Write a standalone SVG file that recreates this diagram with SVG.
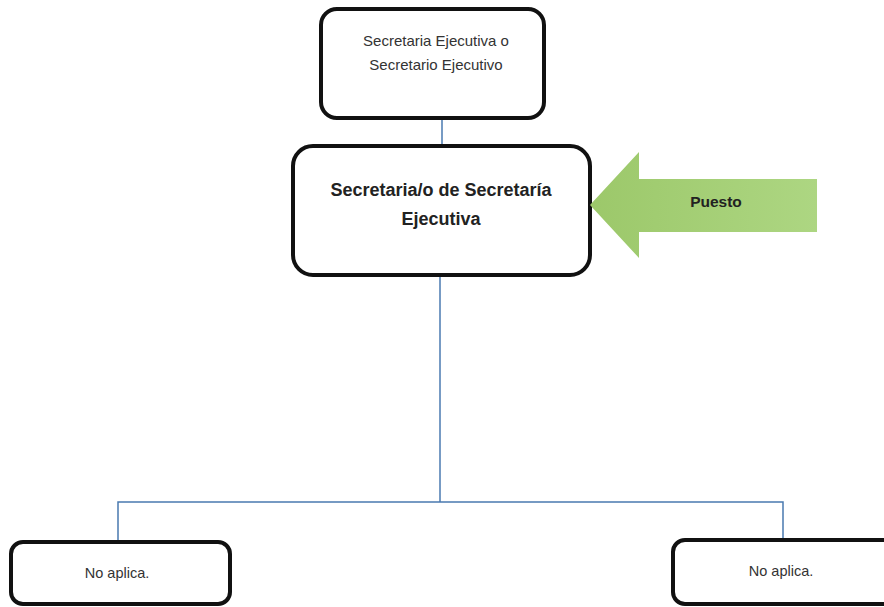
<svg xmlns="http://www.w3.org/2000/svg" width="884" height="607" viewBox="0 0 884 607">
  <defs>
    <linearGradient id="green" x1="0" y1="0" x2="1" y2="0">
      <stop offset="0" stop-color="#9cc86a"/>
      <stop offset="1" stop-color="#add682"/>
    </linearGradient>
  </defs>
  <style>
    .box { fill: #ffffff; stroke: #111111; stroke-width: 4; }
    .conn { fill: none; stroke: #4a7ab0; stroke-width: 1.5; }
    .t { font-family: "Liberation Sans", Arial, sans-serif; fill: #333333; text-anchor: middle; }
    .b { font-weight: bold; fill: #222222; }
  </style>
  <rect width="884" height="607" fill="#ffffff"/>
  <g id="connectors">
    <line class="conn" x1="442" y1="118" x2="442" y2="146"/>
    <polyline class="conn" points="440,275 440,502"/>
    <polyline class="conn" points="118,542 118,502 783,502 783,540"/>
  </g>
  <g id="node-top">
    <rect class="box" x="321" y="9" width="223" height="109" rx="16"/>
    <text class="t" x="436" y="46" font-size="15">Secretaria Ejecutiva o</text>
    <text class="t" x="436" y="70" font-size="15">Secretario Ejecutivo</text>
  </g>
  <g id="node-puesto">
    <rect class="box" x="293" y="146" width="297" height="129" rx="20"/>
    <text class="t b" x="441" y="196" font-size="18">Secretaria/o de Secretaría</text>
    <text class="t b" x="441" y="225" font-size="18">Ejecutiva</text>
  </g>
  <g id="arrow-puesto">
    <polygon points="590,205 639,152 639,179 817,179 817,232 639,232 639,258" fill="url(#green)"/>
    <text class="t b" x="716" y="207" font-size="15.5">Puesto</text>
  </g>
  <g id="node-left">
    <rect class="box" x="11" y="542" width="219" height="62" rx="12"/>
    <text class="t" x="117" y="578" font-size="14.5">No aplica.</text>
  </g>
  <g id="node-right">
    <rect class="box" x="673" y="540" width="230" height="64" rx="12"/>
    <text class="t" x="781" y="576" font-size="14.5">No aplica.</text>
  </g>
</svg>
